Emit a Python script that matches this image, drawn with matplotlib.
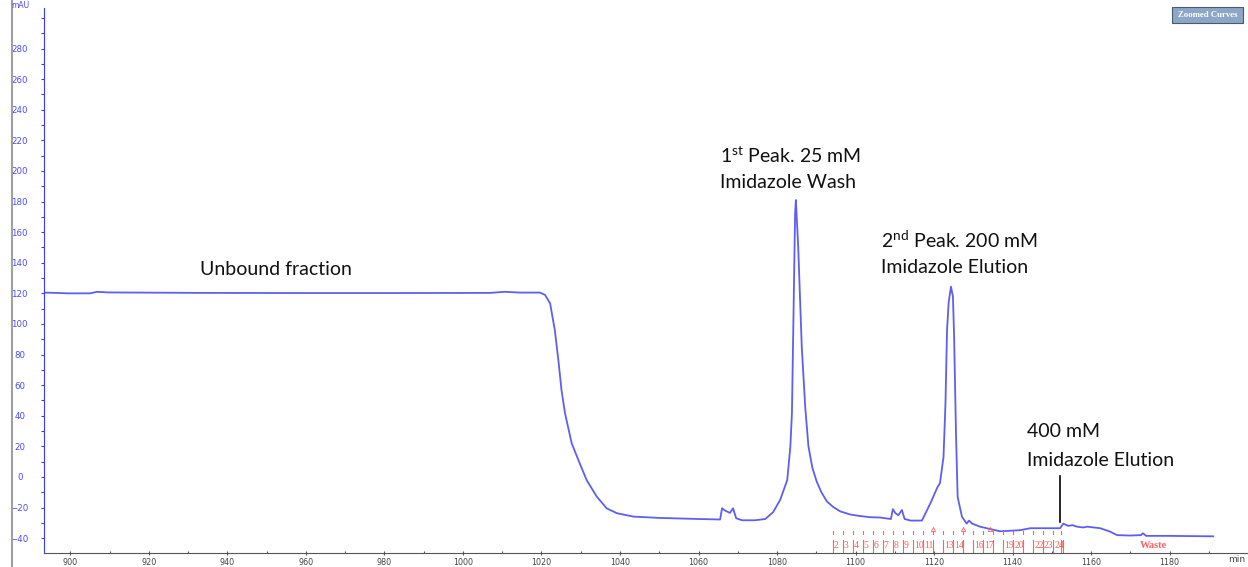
import numpy as np
import matplotlib.pyplot as plt
from matplotlib.ticker import MultipleLocator
from matplotlib.lines import Line2D
from matplotlib.patches import Rectangle

# UV trace (min, mAU)
time_min = [893.2, 896.3, 899.4, 905.0, 906.8, 909.6, 933.0, 958.5, 984.0, 1006.9,
            1010.7, 1014.5, 1019.6, 1020.9, 1022.2, 1023.4, 1024.3, 1025.1, 1026.0, 1027.7,
            1029.4, 1031.5, 1034.1, 1036.6, 1039.2, 1043.4, 1050.2, 1060.4, 1065.5, 1066.0,
            1066.8, 1068.0, 1068.8, 1069.6, 1071.1, 1074.4, 1077.0, 1079.0, 1080.8, 1082.6,
            1083.4, 1083.8, 1084.2, 1084.6, 1084.8, 1085.4, 1086.3, 1087.2, 1088.0, 1089.0,
            1090.1, 1091.3, 1092.7, 1094.3, 1096.1, 1098.6, 1101.0, 1103.7, 1106.2, 1109.0,
            1109.5, 1110.1, 1110.9, 1111.8, 1112.5, 1114.0, 1116.9, 1119.1, 1120.8, 1121.5,
            1122.4, 1122.9, 1123.3, 1123.7, 1124.3, 1124.8, 1125.1, 1125.6, 1126.0, 1127.1,
            1128.3, 1128.9, 1129.7, 1131.7, 1136.8, 1141.9, 1144.5, 1152.1, 1152.9, 1154.2,
            1155.2, 1156.4, 1158.0, 1159.0, 1162.3, 1164.8, 1166.6, 1169.9, 1172.7, 1173.2,
            1174.0, 1179.3, 1191.1]
uv_mau = [120.5, 120.3, 120.0, 120.0, 121.0, 120.6, 120.3, 120.2, 120.2, 120.3,
          121.0, 120.5, 120.5, 119.0, 113.5, 96.0, 76.5, 56.9, 41.6, 22.0,
          11.1, -2.0, -12.9, -20.5, -23.7, -25.9, -26.8, -27.5, -27.8, -20.5,
          -22.0, -23.5, -20.5, -27.0, -28.3, -28.3, -27.5, -23.0, -15.0, -2.0,
          20.0, 42.0, 107.0, 172.0, 181.0, 150.0, 85.0, 45.0, 20.0, 6.0,
          -3.0, -10.0, -16.0, -19.6, -22.5, -24.5, -25.5, -26.3, -26.5, -27.5,
          -21.0, -23.5, -25.0, -21.6, -27.5, -28.5, -28.5, -17.0, -7.0, -4.0,
          13.0, 48.0, 96.0, 113.7, 124.4, 118.0, 92.0, 26.0, -13.0, -26.0,
          -30.5, -28.5, -30.5, -32.5, -35.5, -34.8, -33.5, -33.5, -30.5, -32.0,
          -31.5, -32.5, -33.0, -32.5, -33.5, -35.7, -38.0, -38.3, -38.0, -36.8,
          -38.5, -38.5, -38.8]

# fraction collector marks
frac_edges = [1094.2, 1096.7, 1099.3, 1101.8, 1104.4, 1106.9, 1109.5, 1112.0, 1114.6, 1117.1,
              1119.7, 1122.2, 1124.8, 1127.3, 1129.9, 1132.4, 1135.0, 1137.5, 1140.1, 1142.6,
              1145.2, 1147.7, 1150.3, 1152.4]
frac_labels = ["2", "3", "4", "5", "6", "7", "8", "9", "10", "11", "", "13", "14", "",
               "16", "17", "", "19", "20", "", "22", "23", "24"]
caret_pos = [1119.7, 1127.3, 1134.3]
waste_pos = 1175.8

notes = [
    ("Unbound fraction", 933.0, 135.3),
    (r"1$^{\mathrm{st}}$ Peak. 25 mM", 1065.5, 209.8),
    ("Imidazole Wash", 1065.5, 192.2),
    (r"2$^{\mathrm{nd}}$ Peak. 200 mM", 1106.5, 154.9),
    ("Imidazole Elution", 1106.5, 136.6),
    ("400 mM", 1143.7, 29.4),
    ("Imidazole Elution", 1143.7, 10.5),
]
marker_t, marker_top, marker_bot = 1152.1, 0.6, -29.4

plt.rcParams['mathtext.fontset'] = 'custom'
plt.rcParams['mathtext.rm'] = 'Lato'

W, H = 1248, 567
fig = plt.figure(figsize=(W / 100, H / 100), dpi=100)
ax = fig.add_axes([44 / W, 14 / H, (1247 - 44) / W, (553 - 8) / H])

ax.plot(time_min, uv_mau, color='#5e5ef2', lw=1.3)
ax.set_xlim(893.3, 1199.7)
ax.set_ylim(-49.7, 306.5)

for s in ['top', 'right']:
    ax.spines[s].set_visible(False)
ax.spines['left'].set_color('#3a3aff')
ax.spines['bottom'].set_color('#555555')

ax.xaxis.set_minor_locator(MultipleLocator(10))
ax.yaxis.set_minor_locator(MultipleLocator(10))
ax.set_xticks(np.arange(900, 1181, 20))
ax.set_yticks(np.arange(-40, 281, 20))
ax.tick_params(axis='x', which='major', direction='inout', length=3, width=0.8,
               color='#555555', labelsize=5.8, labelcolor='#444444', pad=2)
ax.tick_params(axis='x', which='minor', direction='in', length=1.5, width=0.8, color='#555555')
ax.tick_params(axis='y', which='both', direction='out', length=2.5, width=0.8,
               color='#3a3aff', labelsize=6.2, labelcolor='#4a4aff', pad=15)
for lab in ax.get_yticklabels():
    lab.set_horizontalalignment('center')

# fraction ticks
red = '#ff6060'
for i, e in enumerate(frac_edges):
    ax.plot([e, e], [-41.2, -49.7], color=red, lw=0.8, clip_on=False)
    ax.plot([e, e], [-35.3, -37.5], color=red, lw=0.8)
    if i < len(frac_labels) and frac_labels[i]:
        ax.text(e + 0.3, -44.8, frac_labels[i], color=red, fontsize=7,
                family='Liberation Serif', ha='left', va='center')
ax.plot([frac_edges[-1] + 0.4] * 2, [-41.2, -49.7], color=red, lw=0.8, clip_on=False)
ax.plot(caret_pos, [-34.3] * len(caret_pos), ls='none', marker='^', ms=3,
        mfc='none', mec=red, mew=0.6)
ax.text(waste_pos, -44.6, "Waste", color=red, fontsize=7.5, family='Liberation Serif',
        weight='bold', ha='center', va='center')

# annotations
for txt, tx, ty in notes:
    ax.text(tx, ty, txt, fontsize=14, family='Lato', color='#111111', ha='left', va='center')
ax.plot([marker_t, marker_t], [marker_top, marker_bot], color='black', lw=1.2)

# window decorations
fig.add_artist(Line2D([11.7 / W] * 2, [0, 1], color='#a0a0a0', lw=1.5, transform=fig.transFigure))
fig.text(20 / W, 1 - 5 / H, "mAU", fontsize=5.5, color='#4a4aff', ha='center', va='center')
fig.text(1237 / W, 1 - 560 / H, "min", fontsize=6.5, color='#444444', ha='center', va='center')
fig.add_artist(Rectangle((1172 / W, 1 - 23 / H), 71 / W, 16 / H, transform=fig.transFigure,
                         facecolor='#8ea6c6', edgecolor='#4a5a70', lw=0.8))
fig.text(1207.5 / W, 1 - 15 / H, "Zoomed Curves", fontsize=6.3, family='Liberation Serif',
         weight='bold', color='white', ha='center', va='center')

fig.savefig("out.png", dpi=100)
